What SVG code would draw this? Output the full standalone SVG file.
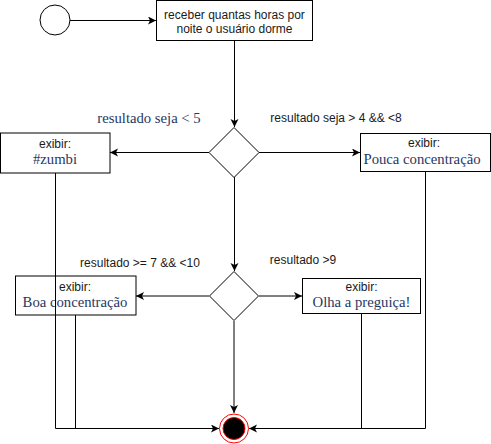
<svg xmlns="http://www.w3.org/2000/svg" width="491" height="444" viewBox="0 0 491 444">
<style>
.box{fill:#fff;stroke:#000;stroke-width:1}
.ln{fill:none;stroke:#000;stroke-width:1}
.sans{font-family:"Liberation Sans",Arial,sans-serif;font-size:12px;fill:#1a1a1a}
.serif{font-family:"Liberation Serif","Times New Roman",serif;font-size:14.7px;fill:#1F3864}
</style>
<defs>
<marker id="arr" markerUnits="userSpaceOnUse" markerWidth="10" markerHeight="10" refX="8" refY="4" orient="auto">
<path d="M0,0 L8,4 L0,8 L2,4 z" fill="#000"/>
</marker>
</defs>
<g id="connectors">
<line class="ln" x1="70" y1="20.5" x2="156" y2="20.5" marker-end="url(#arr)"/>
<line class="ln" x1="234.5" y1="41" x2="234.5" y2="127" marker-end="url(#arr)"/>
<line class="ln" x1="209" y1="152.5" x2="110" y2="152.5" marker-end="url(#arr)"/>
<line class="ln" x1="259" y1="152.5" x2="360" y2="152.5" marker-end="url(#arr)"/>
<line class="ln" x1="234.5" y1="177" x2="234.5" y2="271" marker-end="url(#arr)"/>
<line class="ln" x1="209" y1="296" x2="136" y2="296" marker-end="url(#arr)"/>
<line class="ln" x1="259" y1="296" x2="302" y2="296" marker-end="url(#arr)"/>
<line class="ln" x1="234" y1="321" x2="234" y2="413" marker-end="url(#arr)"/>
<polyline class="ln" points="55.5,173 55.5,428.5 219,428.5" marker-end="url(#arr)"/>
<line class="ln" x1="75.5" y1="315" x2="75.5" y2="428.5"/>
<polyline class="ln" points="425.5,171 425.5,428.5 249,428.5" marker-end="url(#arr)"/>
<line class="ln" x1="361.5" y1="313" x2="361.5" y2="428.5"/>
</g>
<g id="start">
<circle cx="55" cy="20" r="15" class="box"/>
</g>
<g id="receber">
<rect x="156.5" y="0.5" width="156" height="40" class="box"/>
<text x="234.5" y="19" text-anchor="middle" class="sans">receber quantas horas por</text>
<text x="234.5" y="33" text-anchor="middle" class="sans">noite o usuário dorme</text>
</g>
<g id="decision1">
<polygon points="234,127.5 259,152.5 234,177.5 209,152.5" class="box"/>
</g>
<g id="label1">
<text x="149" y="123" text-anchor="middle" class="serif">resultado seja &lt; 5</text>
</g>
<g id="label2">
<text x="336" y="121.5" text-anchor="middle" class="sans">resultado seja &gt; 4 &amp;&amp; &lt;8</text>
</g>
<g id="zumbi">
<rect x="0.5" y="133" width="109.5" height="40" class="box"/>
<text x="55" y="147.5" text-anchor="middle" class="sans">exibir:</text>
<text x="55" y="164" text-anchor="middle" class="serif">#zumbi</text>
</g>
<g id="pouca">
<rect x="360.5" y="133.5" width="130" height="38" class="box"/>
<text x="424" y="147" text-anchor="middle" class="sans">exibir:</text>
<text x="422" y="163.5" text-anchor="middle" class="serif">Pouca concentração</text>
</g>
<g id="decision2">
<polygon points="234,271.5 258.5,296 234,320.5 209.5,296" class="box"/>
</g>
<g id="label3">
<text x="140" y="267" text-anchor="middle" class="sans">resultado &gt;= 7 &amp;&amp; &lt;10</text>
</g>
<g id="label4">
<text x="303" y="264" text-anchor="middle" class="sans">resultado &gt;9</text>
</g>
<g id="boa">
<rect x="15.5" y="276" width="120.5" height="39" class="box"/>
<text x="75" y="291" text-anchor="middle" class="sans">exibir:</text>
<text x="75" y="306.5" text-anchor="middle" class="serif">Boa concentração</text>
</g>
<g id="olha">
<rect x="302.5" y="278.5" width="118" height="35" class="box"/>
<text x="361.5" y="291" text-anchor="middle" class="sans">exibir:</text>
<text x="361.5" y="307" text-anchor="middle" class="serif">Olha a preguiça!</text>
</g>
<g id="end">
<circle cx="234" cy="428.5" r="14.5" fill="#fff" stroke="#ff0000" stroke-width="1"/>
<circle cx="234" cy="428.5" r="11" fill="#000" stroke="#ff0000" stroke-width="1"/>
</g>
<line class="ln" x1="55.5" y1="276" x2="55.5" y2="315"/>
</svg>
